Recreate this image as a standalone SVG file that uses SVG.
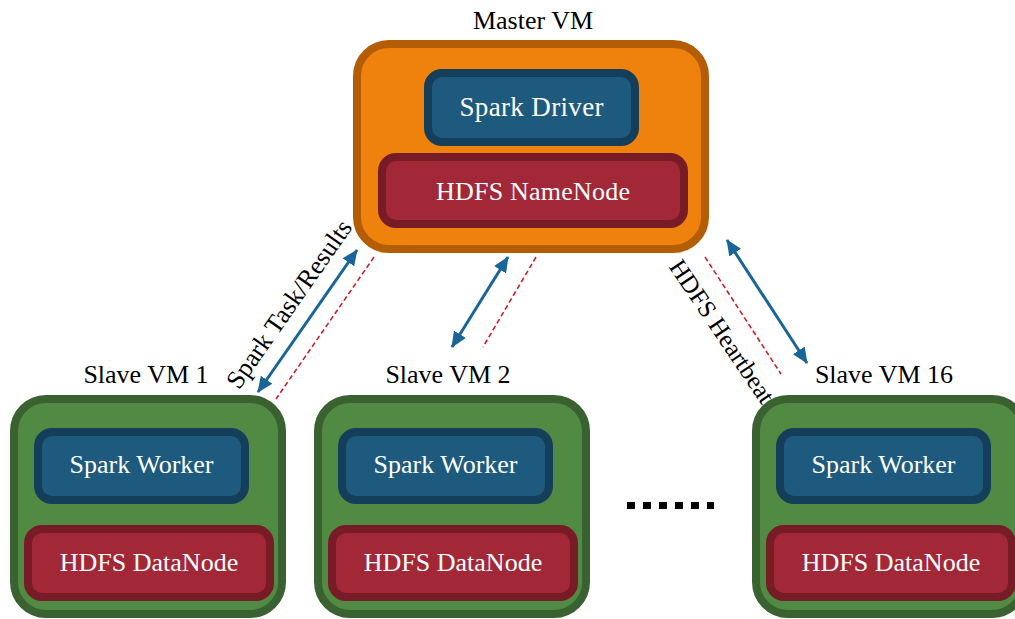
<svg xmlns="http://www.w3.org/2000/svg" width="1015" height="619" viewBox="0 0 1015 619">
<defs>
<style>
.vmM{fill:#EF820D;stroke:#B35E06;stroke-width:8}
.vmS{fill:#518A43;stroke:#3A6130;stroke-width:8}
.blue{fill:#1E5A7D;stroke:#143E59;stroke-width:8}
.red{fill:#A22837;stroke:#771B26;stroke-width:8}
.lbl{font-family:"Liberation Serif","Times New Roman",serif;font-size:26px;fill:#000;text-anchor:middle}
.in{font-family:"Liberation Serif","Times New Roman",serif;font-size:26px;fill:#fff;text-anchor:middle}
.arr{stroke:#1A6598;stroke-width:3;fill:none;marker-start:url(#ah);marker-end:url(#ah)}
.dash{stroke:#D0202A;stroke-width:1.6;stroke-dasharray:5 3;fill:none}
</style>
<marker id="ah" viewBox="0 0 16 14" refX="15" refY="7" markerWidth="16" markerHeight="14" markerUnits="userSpaceOnUse" orient="auto-start-reverse">
<path d="M0,0 L16,7 L0,14 Z" fill="#1A6598"/>
</marker>
</defs>
<g id="master">
<text class="lbl" x="533" y="29">Master VM</text>
<rect class="vmM" x="357" y="44" width="348" height="205" rx="32"/>
<rect class="blue" x="428" y="73" width="207" height="69" rx="14"/>
<text class="in" x="531.5" y="116" style="font-size:27px" textLength="144">Spark Driver</text>
<rect class="red" x="382" y="157" width="302" height="67" rx="14"/>
<text class="in" x="533" y="200" textLength="194">HDFS NameNode</text>
</g>
<g id="slave1">
<text class="lbl" x="146" y="383">Slave VM 1</text>
<rect class="vmS" x="14" y="399" width="268" height="215" rx="32"/>
<rect class="blue" x="38" y="432" width="207" height="68" rx="14"/>
<text class="in" x="141.5" y="473">Spark Worker</text>
<rect class="red" x="28" y="529" width="242" height="68" rx="14"/>
<text class="in" x="149" y="571">HDFS DataNode</text>
</g>
<g id="slave2">
<text class="lbl" x="448" y="383">Slave VM 2</text>
<rect class="vmS" x="318" y="399" width="268" height="215" rx="32"/>
<rect class="blue" x="342" y="432" width="207" height="68" rx="14"/>
<text class="in" x="445.5" y="473">Spark Worker</text>
<rect class="red" x="332" y="529" width="242" height="68" rx="14"/>
<text class="in" x="453" y="571">HDFS DataNode</text>
</g>
<g id="slave16">
<text class="lbl" x="884" y="383">Slave VM 16</text>
<rect class="vmS" x="756" y="399" width="268" height="215" rx="32"/>
<rect class="blue" x="780" y="432" width="207" height="68" rx="14"/>
<text class="in" x="883.5" y="473">Spark Worker</text>
<rect class="red" x="770" y="529" width="242" height="68" rx="14"/>
<text class="in" x="891" y="571">HDFS DataNode</text>
</g>
<g id="ellipsis" fill="#000">
<rect x="627" y="502" width="8" height="7"/>
<rect x="643" y="502" width="8" height="7"/>
<rect x="659" y="502" width="8" height="7"/>
<rect x="675" y="502" width="8" height="7"/>
<rect x="691" y="502" width="8" height="7"/>
<rect x="707" y="502" width="7" height="7"/>
</g>
<g id="connectors">
<line class="arr" x1="357" y1="250" x2="258" y2="392"/>
<line class="dash" x1="374" y1="257" x2="276" y2="399"/>
<line class="arr" x1="508" y1="257" x2="452" y2="347"/>
<line class="dash" x1="536" y1="257" x2="483" y2="347"/>
<line class="arr" x1="727" y1="240" x2="807" y2="363"/>
<line class="dash" x1="705" y1="257" x2="781" y2="374"/>
<text class="lbl" transform="translate(296,309) rotate(-55)">Spark Task/Results</text>
<text class="lbl" style="font-size:25px" transform="translate(715,336) rotate(56)">HDFS Heartbeat</text>
</g>
</svg>
